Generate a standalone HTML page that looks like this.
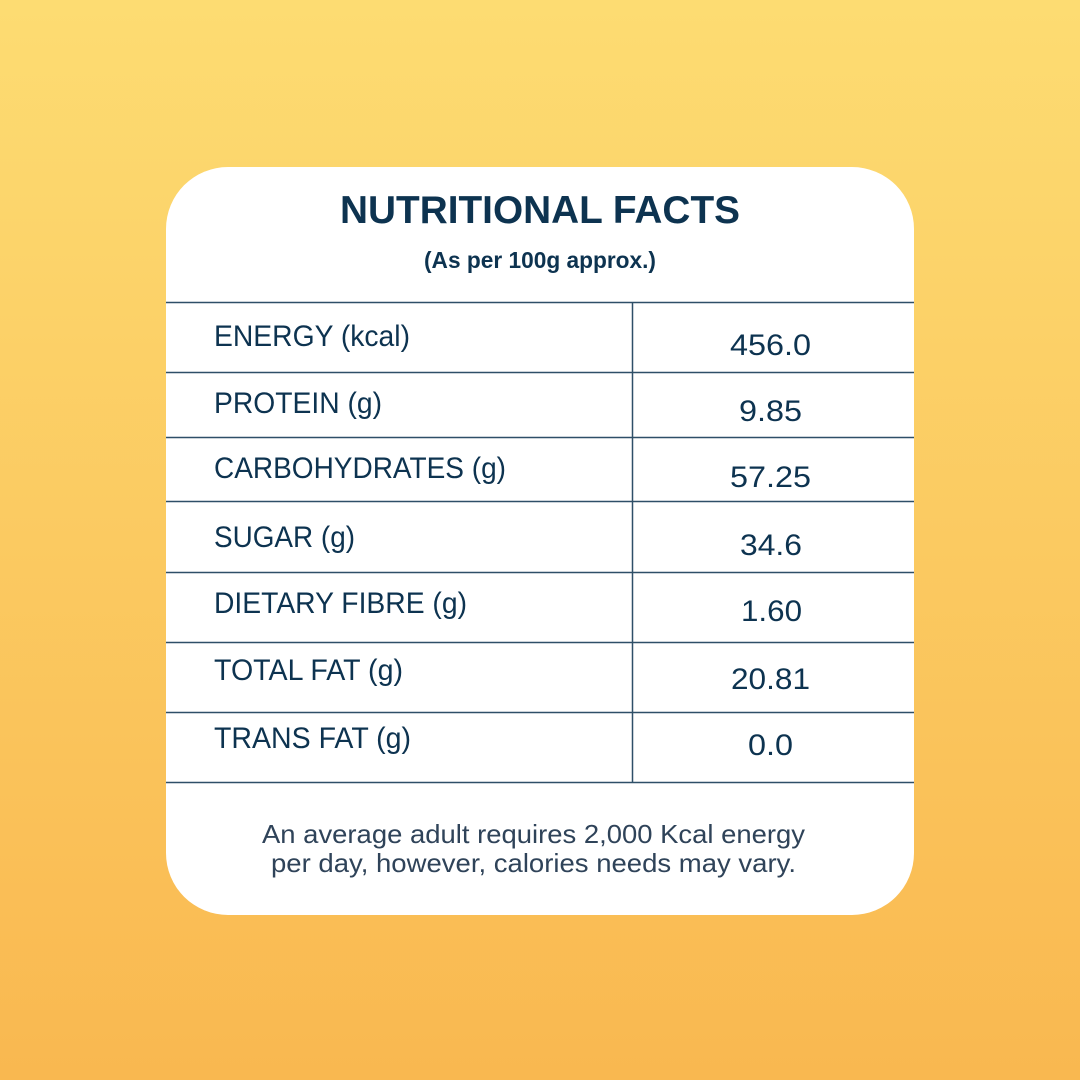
<!DOCTYPE html>
<html><head><meta charset="utf-8"><style>
html,body{margin:0;padding:0;width:1080px;height:1080px;overflow:hidden}
</style></head><body>
<svg width="1080" height="1080" viewBox="0 0 1080 1080" xmlns="http://www.w3.org/2000/svg">
<defs><linearGradient id="g" x1="0" y1="0" x2="0" y2="1">
<stop offset="0" stop-color="#fddc72"/><stop offset="1" stop-color="#f9b850"/></linearGradient></defs>
<rect width="1080" height="1080" fill="url(#g)"/>
<rect x="166" y="167" width="748" height="748" rx="62" fill="#fff"/>
<g stroke="#2e4f68" stroke-width="1.5">
<line x1="166" y1="302.5" x2="914" y2="302.5"/>
<line x1="166" y1="372.5" x2="914" y2="372.5"/>
<line x1="166" y1="437.5" x2="914" y2="437.5"/>
<line x1="166" y1="501.5" x2="914" y2="501.5"/>
<line x1="166" y1="572.5" x2="914" y2="572.5"/>
<line x1="166" y1="642.5" x2="914" y2="642.5"/>
<line x1="166" y1="712.5" x2="914" y2="712.5"/>
<line x1="166" y1="782.5" x2="914" y2="782.5"/>
<line x1="632.5" y1="302" x2="632.5" y2="782"/>
</g>
<g font-family="Liberation Sans, sans-serif" fill="#0d3350">
<text x="340" y="223" font-size="39" font-weight="bold" textLength="400" lengthAdjust="spacingAndGlyphs">NUTRITIONAL FACTS</text>
<text x="424" y="268" font-size="23" font-weight="bold" textLength="232" lengthAdjust="spacingAndGlyphs">(As per 100g approx.)</text>
<g font-size="30">
<text x="214" y="346" textLength="196" lengthAdjust="spacingAndGlyphs">ENERGY (kcal)</text>
<text x="214" y="413" textLength="168" lengthAdjust="spacingAndGlyphs">PROTEIN (g)</text>
<text x="214" y="478" textLength="292" lengthAdjust="spacingAndGlyphs">CARBOHYDRATES (g)</text>
<text x="214" y="547" textLength="141" lengthAdjust="spacingAndGlyphs">SUGAR (g)</text>
<text x="214" y="613" textLength="253" lengthAdjust="spacingAndGlyphs">DIETARY FIBRE (g)</text>
<text x="214" y="680" textLength="189" lengthAdjust="spacingAndGlyphs">TOTAL FAT (g)</text>
<text x="214" y="748" textLength="197" lengthAdjust="spacingAndGlyphs">TRANS FAT (g)</text>
<text x="730" y="355" textLength="81" lengthAdjust="spacingAndGlyphs">456.0</text>
<text x="739" y="421" textLength="63" lengthAdjust="spacingAndGlyphs">9.85</text>
<text x="730" y="487" textLength="81" lengthAdjust="spacingAndGlyphs">57.25</text>
<text x="740" y="555" textLength="62" lengthAdjust="spacingAndGlyphs">34.6</text>
<text x="741" y="621" textLength="61" lengthAdjust="spacingAndGlyphs">1.60</text>
<text x="731" y="689" textLength="79" lengthAdjust="spacingAndGlyphs">20.81</text>
<text x="748" y="755" textLength="45" lengthAdjust="spacingAndGlyphs">0.0</text>
</g>
<g font-size="26" fill="#2f4359">
<text x="262" y="843" textLength="543" lengthAdjust="spacingAndGlyphs">An average adult requires 2,000 Kcal energy</text>
<text x="271" y="872" textLength="525" lengthAdjust="spacingAndGlyphs">per day, however, calories needs may vary.</text>
</g>
</g>
</svg>
</body></html>
